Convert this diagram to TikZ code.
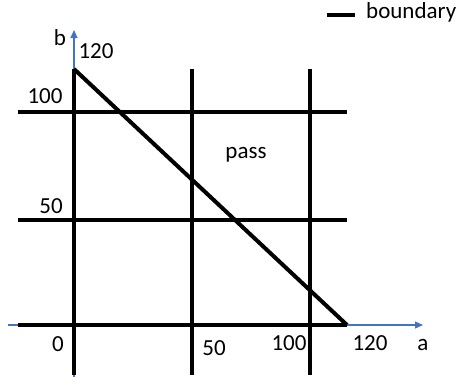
\documentclass[tikz,border=0pt]{standalone}
\usepackage{fontspec}
\setmainfont{Carlito}
\usetikzlibrary{arrows.meta,positioning}
\definecolor{axisblue}{RGB}{68,114,196}

\begin{document}
\begin{tikzpicture}[x=1pt,y=-1pt,
every node/.style={inner sep=0pt,anchor=base,font=\fontsize{23}{27}\selectfont},
bline/.style={line width=4pt},
axisline/.style={axisblue,line width=1.2pt,-{Triangle[length=8pt,width=7pt]}}]
\useasboundingbox (0,0) rectangle (461,386);
% axes
\coordinate (Ab) at (74,377);
\coordinate (At) at (74,30);
\coordinate (Al) at (8,325);
\coordinate (Ar) at (423,325);
\draw[axisline] (Ab)--(At);
\draw[axisline] (Al)--(Ar);
% grid lines
\coordinate (V0t) at (74,69);
\coordinate (V0b) at (74,375);
\coordinate (V50t) at (192,69);
\coordinate (V50b) at (192,375);
\coordinate (V100t) at (310,69);
\coordinate (V100b) at (310,375);
\coordinate (H0l) at (18,325);
\coordinate (H0r) at (347,325);
\coordinate (H50l) at (18,220);
\coordinate (H50r) at (347,220);
\coordinate (H100l) at (18,112);
\coordinate (H100r) at (347,112);
\draw[bline] (V0t)--(V0b);
\draw[bline] (V50t)--(V50b);
\draw[bline] (V100t)--(V100b);
\draw[bline] (H0l)--(H0r);
\draw[bline] (H50l)--(H50r);
\draw[bline] (H100l)--(H100r);
% boundary
\draw[bline] (V0t)--(H0r);
% labels
\node (lb) at (60,45) {b};
\node (lb120) at (96,58) {120};
\node (lb100) at (45,103) {100};
\node (lb50) at (51,213) {50};
\node (la0) at (58,351) {0};
\node (la50) at (214,355) {50};
\node (la100) at (289,350) {100};
\node (la120) at (370,350) {120};
\node (la) at (423,350) {a};
\node (pass) at (246,158) {pass};
% legend
\coordinate (Ll) at (327,15);
\coordinate (Lr) at (355,15);
\draw[bline] (Ll)--(Lr);
\node[anchor=base west] (legend) at (366,18) {boundary};
\end{tikzpicture}
\end{document}
